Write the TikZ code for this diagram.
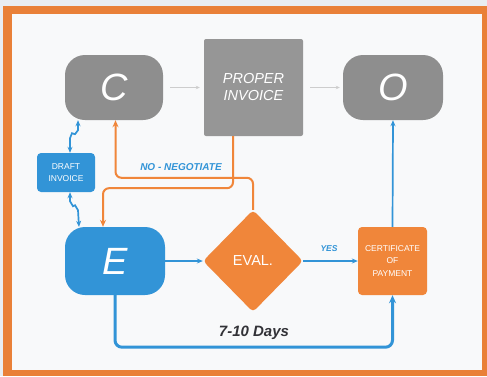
\documentclass[tikz,border=0pt]{standalone}
\usepackage{fontspec}
\setmainfont{Liberation Sans}
\usetikzlibrary{arrows.meta,shapes.geometric}
\definecolor{bgc}{RGB}{233,237,242}
\definecolor{frameor}{RGB}{233,128,56}
\definecolor{nodeor}{RGB}{240,134,58}
\definecolor{nodebl}{RGB}{50,148,215}
\definecolor{nodegr}{RGB}{142,142,142}
\definecolor{propgr}{RGB}{150,150,150}
\definecolor{inner}{RGB}{248,249,250}
\definecolor{faint}{RGB}{205,205,205}
\definecolor{daysc}{RGB}{50,50,55}
\tikzset{
  bigletter/.style={text=white,font=\fontsize{38}{40}\selectfont\itshape},
  roundbox/.style={rounded corners=20pt,inner sep=0pt},
  smallbox/.style={rounded corners=4pt,inner sep=0pt,align=center,text=white},
  blarrow/.style={draw=nodebl,line width=1.7pt,-{Stealth[length=6pt,width=5pt]}},
  orarrow/.style={draw=nodeor,line width=2pt,rounded corners=6pt,-{Stealth[length=7pt,width=6pt]}},
  fadearrow/.style={draw=faint,line width=1pt,-{Stealth[length=4pt,width=3.5pt]}},
  lab/.style={text=nodebl,font=\fontsize{10}{11}\selectfont\bfseries\itshape}
}
\begin{document}
\begin{tikzpicture}[x=1pt,y=-1pt]
\useasboundingbox (0,0) rectangle (487,376);
\fill[bgc] (0,0) rectangle (487,376);
\fill[frameor] (3,6) rectangle (487,376);
\fill[inner] (12,14) rectangle (482,370);

% nodes
\node[roundbox,fill=nodegr,minimum width=98pt,minimum height=65pt,bigletter] (C) at (114,87.5) {C};
\node[roundbox,fill=nodegr,minimum width=100pt,minimum height=65pt,bigletter] (O) at (393,87.5) {O};
\node[fill=propgr,rounded corners=2pt,minimum width=99pt,minimum height=97pt,inner sep=0pt,align=center,text=white,font=\fontsize{14.5}{17}\selectfont\itshape] (P) at (253.5,87.5) {PROPER\\INVOICE};
\node[smallbox,fill=nodebl,minimum width=58pt,minimum height=39pt,font=\fontsize{8.5}{12}\selectfont] (D) at (66,172.5) {DRAFT\\INVOICE};
\node[roundbox,fill=nodebl,minimum width=100pt,minimum height=68pt,bigletter] (E) at (115,261) {E};
\node[diamond,aspect=1,fill=nodeor,minimum width=100pt,minimum height=102pt,inner sep=0pt,rounded corners=4pt,text=white,font=\fontsize{14.5}{16}\selectfont] (V) at (253,261) {EVAL.};
\node[smallbox,fill=nodeor,minimum width=69pt,minimum height=68pt,font=\fontsize{8.5}{12.5}\selectfont] (CP) at (392.5,261) {CERTIFICATE\\OF\\PAYMENT};

% faint top arrows
\draw[fadearrow] ([xshift=7pt]C.east) -- ([xshift=-4pt]P.west);
\draw[fadearrow] ([xshift=7pt]P.east) -- ([xshift=-3pt]O.west);

% blue arrows
\draw[blarrow] (E.east) -- (V.west);
\draw[blarrow] (V.east) -- (CP.west);
\draw[blarrow] (CP.north) -- (O.south);
\draw[draw=nodebl,line width=3pt,rounded corners=7pt,-{Stealth[length=8pt,width=7pt]}] (E.south) -- ++(0,52) -| (CP.south);

% zigzag double arrows
\draw[draw=nodebl,line width=1.7pt,{Stealth[length=6pt,width=5pt]}-{Stealth[length=6pt,width=5pt]}]
  ([xshift=-36pt]C.south) -- ++(0,10) -- ++(-3,4) -- ++(-3,-1) -- ++(-2,5) -- ([xshift=4pt]D.north);
\draw[draw=nodebl,line width=1.7pt,{Stealth[length=6pt,width=5pt]}-{Stealth[length=6pt,width=5pt]}]
  ([xshift=4pt]D.south) -- ++(0,9) -- ++(3,5) -- ++(2,-1) -- ++(3,5) -- ([xshift=-36pt]E.north);

% orange connectors
\draw[orarrow] (V.north) -- ++(0,-32) -| ([xshift=1.5pt]C.south);
\draw[orarrow] ([xshift=-20.5pt]P.south) -- ++(0,52) -| ([xshift=-12pt]E.north);

% labels
\node[lab] (lno) at (181,167) {NO - NEGOTIATE};
\node[lab,font=\fontsize{8.5}{9}\selectfont\bfseries\itshape] (lyes) at (329,249) {YES};
\node[text=daysc,font=\fontsize{15}{17}\selectfont\bfseries\itshape] (ldays) at (254,333) {7-10 Days};
\end{tikzpicture}
\end{document}
